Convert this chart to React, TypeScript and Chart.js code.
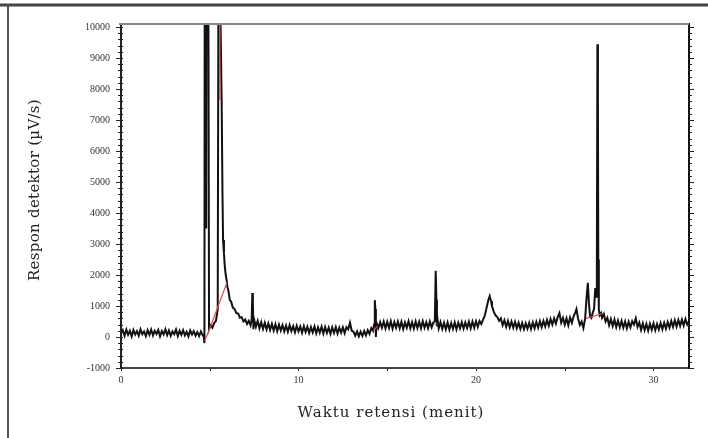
import { useEffect, useRef } from "react";
import { Chart, registerables } from "chart.js";

Chart.register(...registerables);

const xTickValues = [0, 10, 20, 30];
const yTickValues = [-1000, 0, 1000, 2000, 3000, 4000, 5000, 6000, 7000, 8000, 9000, 10000];
const xMinorTicks = [5, 15, 25];
const xAxisTitle = "Waktu retensi (menit)";
const yAxisTitle = "Respon detektor (µV/s)";

// [retention time (min), detector response (µV/s)]
const detectorTrace: [number, number][] = [
  [0.0, 120], [0.1, 220], [0.2, 40], [0.3, 240], [0.4, 70], [0.5, 200], [0.6, 20], [0.7, 230], [0.8, 80], [0.9, 190],
  [1.0, 40], [1.1, 250], [1.2, 90], [1.3, 180], [1.4, 30], [1.5, 220], [1.6, 70], [1.7, 240], [1.8, 50], [1.9, 200],
  [2.0, 100], [2.1, 230], [2.2, 20], [2.3, 190], [2.4, 80], [2.5, 250], [2.6, 60], [2.7, 210], [2.8, 40], [2.9, 180],
  [3.0, 90], [3.1, 240], [3.2, 30], [3.3, 200], [3.4, 70], [3.5, 220], [3.6, 50], [3.7, 170], [3.8, 20], [3.9, 210],
  [4.0, 80], [4.1, 190], [4.2, 40], [4.3, 160], [4.4, 30], [4.5, 180], [4.6, 60], [4.66, 20], [4.70, -200],
  [4.74, 30000], [4.80, 3500], [4.86, 30000], [4.96, 250], [5.05, 380], [5.15, 300], [5.25, 450], [5.35, 520],
  [5.45, 900], [5.52, 20000], [5.60, 10500], [5.67, 7650], [5.72, 4500], [5.75, 3130], [5.80, 2700], [5.85, 2260],
  [5.90, 2000], [5.95, 1840], [6.0, 1600], [6.05, 1500], [6.13, 1190], [6.2, 1150], [6.3, 950], [6.4, 900],
  [6.5, 770], [6.6, 760], [6.7, 620], [6.8, 640], [6.9, 500], [7.0, 560], [7.1, 420], [7.2, 520], [7.3, 380],
  [7.36, 560], [7.40, 1420], [7.43, 1100], [7.46, 250], [7.5, 560], [7.6, 330], [7.7, 520], [7.8, 280], [7.9, 480],
  [8.0, 260], [8.1, 460], [8.2, 240], [8.3, 440], [8.4, 230], [8.5, 420], [8.6, 210], [8.7, 410], [8.8, 190],
  [8.9, 400], [9.0, 210], [9.1, 380], [9.2, 180], [9.3, 370], [9.4, 170], [9.5, 380], [9.6, 190], [9.7, 350],
  [9.8, 150], [9.9, 360], [10.0, 180], [10.1, 340], [10.2, 140], [10.3, 350], [10.4, 160], [10.5, 330], [10.6, 130],
  [10.7, 320], [10.8, 150], [10.9, 340], [11.0, 120], [11.1, 310], [11.2, 140], [11.3, 330], [11.4, 110], [11.5, 320],
  [11.6, 130], [11.7, 300], [11.8, 100], [11.9, 310], [12.0, 130], [12.1, 320], [12.2, 110], [12.3, 300], [12.4, 140],
  [12.5, 310], [12.6, 120], [12.7, 320], [12.8, 250], [12.9, 460], [13.0, 200], [13.1, 170], [13.2, 40], [13.3, 180],
  [13.4, 20], [13.5, 170], [13.6, 30], [13.7, 190], [13.8, 50], [13.9, 220], [14.0, 100], [14.1, 290], [14.2, 200],
  [14.26, 400], [14.30, 1190], [14.33, 900], [14.36, 0], [14.40, 450], [14.5, 290], [14.6, 480], [14.7, 300],
  [14.8, 500], [14.9, 280], [15.0, 490], [15.1, 290], [15.2, 510], [15.3, 270], [15.4, 480], [15.5, 300], [15.6, 500],
  [15.7, 280], [15.8, 490], [15.9, 260], [16.0, 470], [16.1, 300], [16.2, 510], [16.3, 280], [16.4, 480], [16.5, 270],
  [16.6, 500], [16.7, 290], [16.8, 490], [16.9, 280], [17.0, 510], [17.1, 300], [17.2, 480], [17.3, 280], [17.4, 500],
  [17.5, 310], [17.6, 470], [17.68, 500], [17.73, 2140], [17.77, 1200], [17.80, 350], [17.85, 500], [17.9, 280],
  [18.0, 480], [18.1, 260], [18.2, 460], [18.3, 250], [18.4, 470], [18.5, 240], [18.6, 450], [18.7, 260], [18.8, 470],
  [18.9, 250], [19.0, 460], [19.1, 280], [19.2, 480], [19.3, 270], [19.4, 470], [19.5, 290], [19.6, 490], [19.7, 280],
  [19.8, 500], [19.9, 300], [20.0, 510], [20.1, 330], [20.2, 520], [20.3, 420], [20.4, 560], [20.5, 700], [20.6, 950],
  [20.7, 1200], [20.77, 1320], [20.85, 1150], [20.9, 1000], [21.0, 820], [21.1, 700], [21.2, 640], [21.3, 520],
  [21.4, 600], [21.5, 380], [21.6, 540], [21.7, 330], [21.8, 520], [21.9, 310], [22.0, 500], [22.1, 300], [22.2, 490],
  [22.3, 280], [22.4, 460], [22.5, 260], [22.6, 450], [22.7, 250], [22.8, 440], [22.9, 270], [23.0, 460], [23.1, 260],
  [23.2, 470], [23.3, 280], [23.4, 490], [23.5, 300], [23.6, 510], [23.7, 320], [23.8, 520], [23.9, 340], [24.0, 550],
  [24.1, 360], [24.2, 580], [24.3, 400], [24.4, 600], [24.5, 430], [24.6, 640], [24.7, 770], [24.8, 460], [24.9, 620],
  [25.0, 400], [25.1, 600], [25.2, 380], [25.3, 630], [25.4, 460], [25.5, 670], [25.6, 800], [25.66, 900], [25.75, 600],
  [25.85, 390], [25.95, 500], [26.05, 290], [26.15, 600], [26.22, 1200], [26.30, 1750], [26.36, 1100], [26.43, 650],
  [26.50, 610], [26.57, 770], [26.65, 900], [26.72, 1580], [26.77, 1300], [26.81, 2500], [26.84, 9450], [26.87, 7100],
  [26.89, 2500], [26.92, 900], [26.97, 700], [27.05, 770], [27.1, 620], [27.2, 740], [27.3, 500], [27.4, 620],
  [27.5, 380], [27.6, 580], [27.7, 350], [27.8, 560], [27.9, 320], [28.0, 530], [28.1, 310], [28.2, 520], [28.3, 300],
  [28.4, 500], [28.5, 280], [28.6, 490], [28.7, 310], [28.8, 510], [28.9, 400], [29.0, 600], [29.1, 330], [29.2, 470],
  [29.3, 230], [29.4, 440], [29.5, 220], [29.6, 420], [29.7, 210], [29.8, 430], [29.9, 230], [30.0, 440], [30.1, 220],
  [30.2, 420], [30.3, 240], [30.4, 450], [30.5, 250], [30.6, 460], [30.7, 270], [30.8, 480], [30.9, 300], [31.0, 520],
  [31.1, 330], [31.2, 540], [31.3, 340], [31.4, 550], [31.5, 360], [31.6, 560], [31.7, 370], [31.8, 580], [31.9, 400],
  [32.0, 500],
];

// integration marks (red), null breaks a segment
const integrationMarks: ([number, number] | [number, null])[] = [
  [4.72, -120], [5.05, 350], [5.97, 1760], [5.97, null],
  [5.55, 12000], [5.57, 7650], [5.57, null],
  [14.22, 200], [14.45, 350], [14.45, null],
  [17.66, 420], [17.84, 420], [17.84, null],
  [26.2, 600], [27.14, 760],
];

const SERIF = '"DejaVu Serif", "Liberation Serif", serif';
const TICK_FONT = '"Liberation Serif", serif';

const decorPlugin = {
  id: "decor",
  afterDraw(chart: any) {
    const ctx = chart.ctx as CanvasRenderingContext2D;
    const { left, right, top, bottom } = chart.chartArea;
    const ys = chart.scales.y;
    const xs = chart.scales.x;
    ctx.save();
    // outer frame
    ctx.strokeStyle = "#444";
    ctx.lineWidth = 3;
    ctx.beginPath();
    ctx.moveTo(0, 5);
    ctx.lineTo(708, 5);
    ctx.stroke();
    ctx.strokeStyle = "#555";
    ctx.lineWidth = 2;
    ctx.beginPath();
    ctx.moveTo(8, 5);
    ctx.lineTo(8, 438);
    ctx.stroke();
    // top border of plot
    ctx.strokeStyle = "#8a8a8a";
    ctx.lineWidth = 2;
    ctx.beginPath();
    ctx.moveTo(left - 2, top);
    ctx.lineTo(right, top);
    ctx.stroke();
    // minor ticks on y axes
    ctx.strokeStyle = "#222";
    ctx.lineWidth = 1;
    ctx.beginPath();
    for (let v = -1000; v <= 10000; v += 200) {
      const py = Math.round(ys.getPixelForValue(v)) + 0.5;
      ctx.moveTo(left - 3, py);
      ctx.lineTo(left + 2, py);
      ctx.moveTo(right - 1, py);
      ctx.lineTo(right + 3, py);
    }
    for (const v of xMinorTicks) {
      const px = Math.round(xs.getPixelForValue(v)) + 0.5;
      ctx.moveTo(px, bottom);
      ctx.lineTo(px, bottom + 3);
    }
    ctx.stroke();
    // axis titles
    ctx.fillStyle = "#222";
    ctx.font = `15px ${SERIF}`;
    ctx.textAlign = "center";
    ctx.textBaseline = "middle";
    try { (ctx as any).letterSpacing = "1px"; } catch (e) {}
    ctx.fillText(xAxisTitle, 391, 413);
    ctx.translate(35, 190);
    ctx.rotate(-Math.PI / 2);
    try { (ctx as any).letterSpacing = "0.3px"; } catch (e) {}
    ctx.fillText(yAxisTitle, 0, 0);
    ctx.restore();
  },
};

export default function App() {
  const ref = useRef<HTMLCanvasElement | null>(null);
  useEffect(() => {
    if (!ref.current) return;
    const tickFont = { family: TICK_FONT, size: 10 };
    const chart = new Chart(ref.current, {
      type: "line",
      data: {
        datasets: [
          {
            label: "integrasi",
            data: integrationMarks.map(([x, y]) => ({ x, y })),
            borderColor: "#e8464e",
            borderWidth: 1.2,
            pointRadius: 0,
            spanGaps: false,
            tension: 0,
          },
          {
            label: "detektor",
            data: detectorTrace.map(([x, y]) => ({ x, y })),
            borderColor: "#111",
            borderWidth: 2,
            pointRadius: 0,
            tension: 0,
          },
        ],
      },
      options: {
        animation: false,
        responsive: false,
        events: [],
        layout: { padding: { left: 0, top: 24, right: 13, bottom: 0 } },
        plugins: { legend: { display: false }, tooltip: { enabled: false }, title: { display: false } },
        scales: {
          x: {
            type: "linear",
            min: 0,
            max: 32,
            afterBuildTicks: (s: any) => { s.ticks = xTickValues.map((value) => ({ value })); },
            ticks: { font: tickFont, color: "#333", padding: 3, callback: (v: any) => String(v), maxRotation: 0 },
            grid: { drawOnChartArea: false, tickLength: 3, tickColor: "#333", tickWidth: 1 },
            border: { color: "#444", width: 2 },
            afterFit: (s: any) => { s.height = 70; },
          },
          y: {
            type: "linear",
            min: -1000,
            max: 10100,
            afterBuildTicks: (s: any) => { s.ticks = yTickValues.map((value) => ({ value })); },
            ticks: { font: tickFont, color: "#333", padding: 6, callback: (v: any) => String(v) },
            grid: { drawOnChartArea: false, tickLength: 5, tickColor: "#222", tickWidth: 1 },
            border: { color: "#222", width: 2 },
            afterFit: (s: any) => { s.width = 121; },
          },
          y2: {
            type: "linear",
            position: "right",
            min: -1000,
            max: 10100,
            afterBuildTicks: (s: any) => { s.ticks = yTickValues.map((value) => ({ value })); },
            ticks: { display: false },
            grid: { drawOnChartArea: false, tickLength: 5, tickColor: "#111", tickWidth: 1 },
            border: { color: "#111", width: 2 },
            afterFit: (s: any) => { s.width = 6; },
          },
        },
      },
      plugins: [decorPlugin],
    });
    return () => chart.destroy();
  }, []);
  return (
    <div style={{ position: "absolute", left: 0, top: 0, width: 708, height: 438, background: "#fff" }}>
      <canvas ref={ref} width={708} height={438} style={{ display: "block" }} />
    </div>
  );
}
